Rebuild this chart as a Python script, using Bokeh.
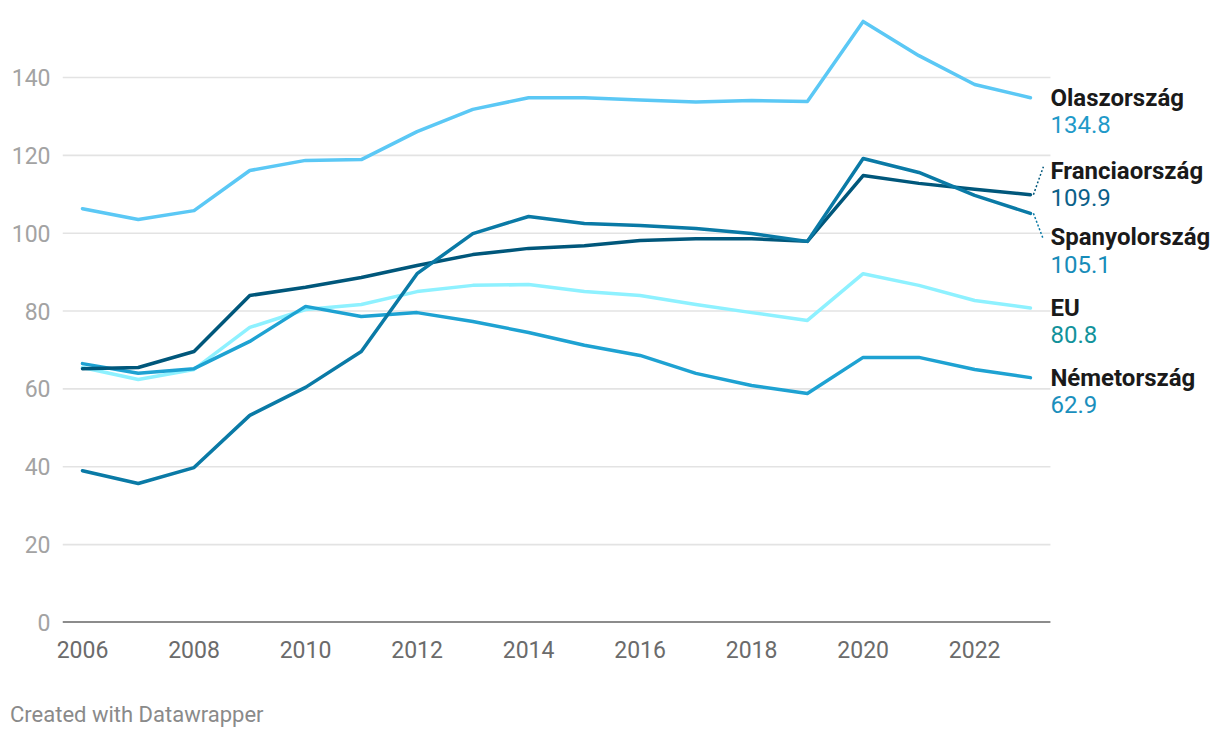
from bokeh.plotting import figure
from bokeh.models import Range1d, FixedTicker, Div
from bokeh.layouts import column
from bokeh.core.properties import value
from bokeh.embed import file_html
from bokeh.resources import INLINE

# ---------------- data ----------------
years = list(range(2006, 2024))
italy   = [106.3, 103.5, 105.8, 116.1, 118.7, 118.9, 126.1, 131.8, 134.8, 134.8,
           134.2, 133.7, 134.1, 133.8, 154.4, 145.6, 138.2, 134.8]
france  = [65.2, 65.5, 69.6, 84.0, 86.1, 88.6, 91.7, 94.5, 96.1, 96.8,
           98.1, 98.6, 98.6, 97.9, 114.8, 112.8, 111.3, 109.9]
spain   = [39.0, 35.7, 39.8, 53.2, 60.4, 69.6, 89.6, 99.9, 104.3, 102.5,
           102.0, 101.2, 99.9, 97.9, 119.2, 115.6, 109.7, 105.1]
eu      = [65.5, 62.4, 65.0, 75.8, 80.4, 81.7, 85.0, 86.6, 86.8, 85.0,
           84.0, 81.7, 79.6, 77.6, 89.6, 86.6, 82.7, 80.8]
germany = [66.5, 64.0, 65.2, 72.2, 81.2, 78.6, 79.6, 77.3, 74.5, 71.2,
           68.6, 64.0, 60.9, 58.8, 68.1, 68.1, 65.0, 62.9]

series_names = ["Olaszország", "Franciaország", "Spanyolország", "EU", "Németország"]
series_vals = [italy, france, spain, eu, germany]
line_colors = ["#5bc8f5", "#00577b", "#0a7aa6", "#8ef1ff", "#1ea2d2"]
value_colors = ["#1f9ac9", "#0b6189", "#178cb9", "#12929b", "#1a8fbd"]
value_labels = ["134.8", "109.9", "105.1", "80.8", "62.9"]
label_y = [134.8, 116.1, 98.9, 80.8, 62.9]   # label anchor after collision avoidance

x_ticks = [2006, 2008, 2010, 2012, 2014, 2016, 2018, 2020, 2022]
y_ticks = [0, 20, 40, 60, 80, 100, 120, 140]
footer_text = "Created with Datawrapper"

# ---------------- layout constants ----------------
W, H = 1212, 700
px_per_year = 55.76
px_per_unit = 3.893
left_pad = 20
frame_left, frame_top, frame_bottom = 62, 10, 622
x_start = 2006 - left_pad / px_per_year
x_end = x_start + (W - frame_left) / px_per_year
grid_end = 2023 + 20 / px_per_year
y_end = (frame_bottom - frame_top) / px_per_unit

FONT = "Roboto"

p = figure(width=W, height=H, output_backend="svg", toolbar_location=None,
           x_range=Range1d(x_start, x_end), y_range=Range1d(0, y_end),
           min_border_left=frame_left, min_border_right=0,
           min_border_top=frame_top, min_border_bottom=H - frame_bottom)
p.outline_line_color = None
p.background_fill_color = "white"
p.border_fill_color = "white"
p.xgrid.grid_line_color = None
p.ygrid.grid_line_color = None

# axes
p.xaxis.ticker = FixedTicker(ticks=x_ticks)
p.yaxis.ticker = FixedTicker(ticks=y_ticks)
for ax in (p.xaxis[0], p.yaxis[0]):
    ax.axis_line_color = None
    ax.major_tick_line_color = None
    ax.minor_tick_line_color = None
    ax.major_tick_out = 0
    ax.major_tick_in = 0
    ax.major_label_text_font = FONT
    ax.major_label_text_font_size = "23px"
p.yaxis.major_label_text_color = "#a3a3a3"
p.xaxis.major_label_text_color = "#6b6b6b"
p.yaxis.major_label_standoff = 12
p.xaxis.major_label_standoff = 18

# gridlines
grid_vals = [v for v in y_ticks if v != 0]
p.segment(x0=[x_start] * len(grid_vals), x1=[grid_end] * len(grid_vals),
          y0=grid_vals, y1=grid_vals, line_color="#e3e3e3", line_width=1.6)
# baseline
p.segment(x0=[x_start], x1=[grid_end], y0=[0], y1=[0], line_color="#1a1a1a", line_width=2.2)

# lines (drawing order)
order = [3, 4, 0, 1, 2]
for i in order:
    p.line(years, series_vals[i], line_color=line_colors[i], line_width=3.5,
           line_join="round", line_cap="round")

# connectors for shifted labels
for i in range(len(series_names)):
    end_val = series_vals[i][-1]
    if abs(label_y[i] - end_val) > 2:
        x0 = 2023 + 3 / px_per_year
        x1 = 2023 + 13 / px_per_year
        y1 = label_y[i] + (1.0 if label_y[i] > end_val else -0.5)
        p.segment(x0=[x0], x1=[x1], y0=[end_val], y1=[y1],
                  line_color=line_colors[i], line_width=1.5, line_dash="2 2")

# labels
lx = [2023 + 20 / px_per_year] * len(series_names)
p.text(x=lx, y=label_y, text=series_names, text_font=value(FONT),
       text_font_style="bold", text_font_size="24px", text_color="#1a1a1a",
       text_baseline="middle", text_align="left")
p.text(x=lx, y=label_y, text=value_labels, text_font=value(FONT),
       text_font_size="24px", text_color=value_colors,
       text_baseline="middle", text_align="left", y_offset=27)

# footer
footer = Div(text=footer_text, width=400, height=30, margin=(0, 0, 0, 10),
             styles={"font-family": FONT, "font-size": "22px", "color": "#8a8a8a",
                     "line-height": "30px", "white-space": "nowrap"})

layout = column(p, footer, spacing=0)
open("out.html", "w").write(file_html(layout, INLINE))
